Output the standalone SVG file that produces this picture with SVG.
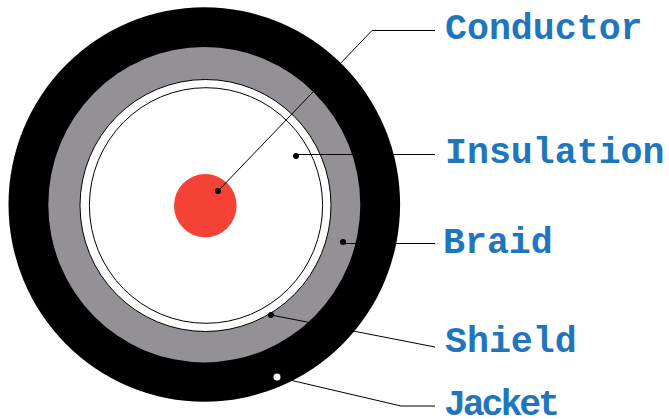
<svg xmlns="http://www.w3.org/2000/svg" width="669" height="419" viewBox="0 0 669 419">
<style>
.l{font-family:"Liberation Mono","DejaVu Sans Mono",monospace;font-weight:bold;font-size:36.600px;fill:#1f76bd}
.c{fill:none;stroke:#000;stroke-width:1}
</style>
<rect width="669" height="419" fill="#fff"/>
<g id="cable">
<ellipse cx="204.300" cy="204.500" rx="195.800" ry="197.300" fill="#000"/>
<ellipse cx="204.300" cy="204.700" rx="156" ry="157.700" fill="#939195"/>
<ellipse cx="205.500" cy="205.500" rx="125.500" ry="126" fill="#fff" stroke="#000" stroke-width="1"/>
<ellipse cx="206" cy="205.500" rx="116.600" ry="117.800" fill="#fff" stroke="#000" stroke-width="1"/>
<ellipse cx="205.300" cy="205.700" rx="31.300" ry="31.700" fill="#f44336"/>
</g>
<g id="connectors">
<path class="c" d="M218 191L372 30.500H435"/>
<path class="c" d="M296 154.500H435"/>
<path class="c" d="M343 243.500H435"/>
<path class="c" d="M271 315L435 347"/>
<path class="c" d="M277 377L401 406H435"/>
<circle cx="218" cy="191" r="3"/><circle cx="296" cy="156" r="3"/><circle cx="343" cy="242" r="3"/><circle cx="271" cy="315" r="3"/><circle cx="277" cy="377" r="3.500" fill="#fff"/>
</g>
<g id="labels">
<text class="l" x="445" y="39">Conductor</text>
<text class="l" x="445" y="163">Insulation</text>
<text class="l" x="443" y="253">Braid</text>
<text class="l" x="445" y="352">Shield</text>
<text class="l" x="444" y="415" textLength="116">Jacket</text>
</g>
</svg>
